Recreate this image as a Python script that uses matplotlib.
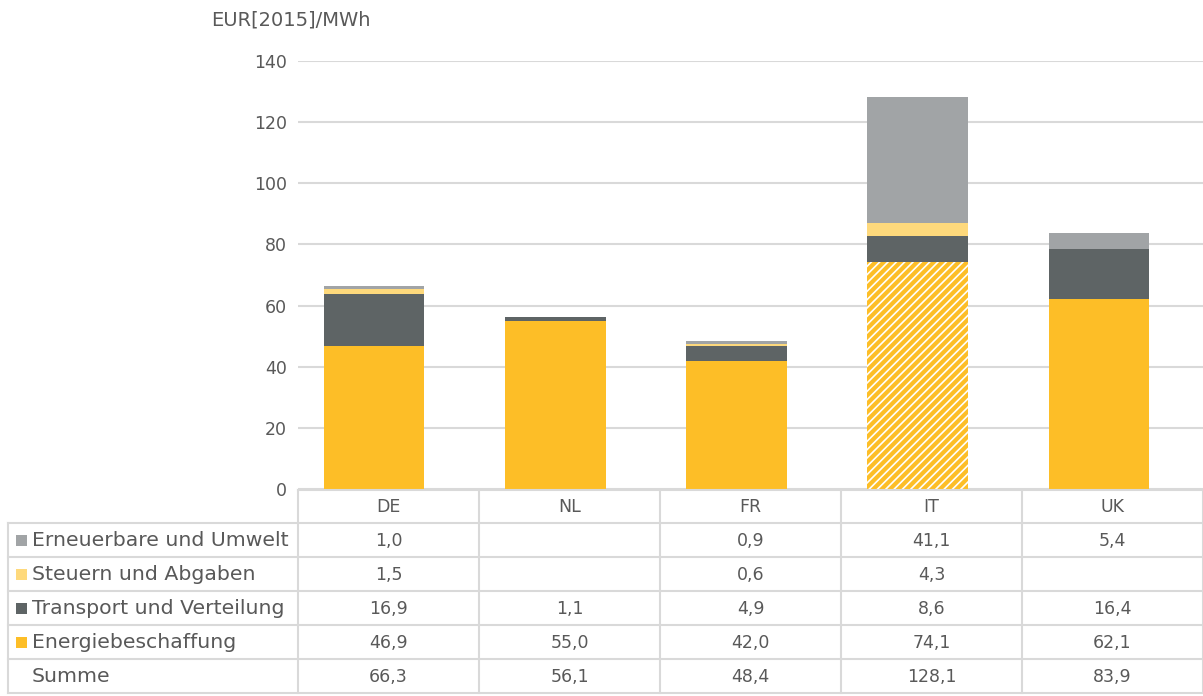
import matplotlib.pyplot as plt
from matplotlib.patches import Rectangle

# Stromkosten nach Bestandteilen, EUR[2015]/MWh
laender = ["DE", "NL", "FR", "IT", "UK"]
energie = [46.9, 55.0, 42.0, 74.1, 62.1]
transport = [16.9, 1.1, 4.9, 8.6, 16.4]
steuern = [1.5, None, 0.6, 4.3, None]
erneuerbare = [1.0, None, 0.9, 41.1, 5.4]
summe = [66.3, 56.1, 48.4, 128.1, 83.9]

y_ticks = [0, 20, 40, 60, 80, 100, 120, 140]

C_ENERGIE = "#FDBE27"
C_TRANSPORT = "#5E6465"
C_STEUERN = "#FED97C"
C_ERNEUERBARE = "#A1A4A6"
TXT = "#595959"
GRID = "#D9D9D9"

plt.rcParams["font.family"] = ["DejaVu Sans"]
plt.rcParams["hatch.linewidth"] = 1.2

W, H = 1203, 696
fig = plt.figure(figsize=(W / 100, H / 100), dpi=100)

FS_TEXT = 14.7
FS_NUM = 12.5


def fx(px):
    return px / W


def fy(py):
    return 1 - py / H


# Diagramm (Balken leicht links der Tabellenspalten)
x0, x1 = 298, 1203
y_top, y_zero = 61, 489
slot = 181.25
erster = 374
ax = fig.add_axes([fx(x0), fy(y_zero), fx(x1 - x0), (y_zero - y_top) / H])
ax.set_xlim(-(erster - x0) / slot, (x1 - erster) / slot)
ax.set_ylim(0, 140)
for s in ax.spines.values():
    s.set_visible(False)
ax.set_xticks([])
ax.set_yticks(y_ticks)
ax.tick_params(axis="y", length=0, pad=8, labelsize=FS_NUM, labelcolor=TXT)
ax.yaxis.grid(True, color=GRID, linewidth=1.5)
ax.set_axisbelow(True)


def val(v):
    return 0 if v is None else v


pos = range(len(laender))
bw = 0.557
for i in pos:
    hatch = "////" if laender[i] == "IT" else None
    ax.bar(i, energie[i], bw, color=C_ENERGIE, hatch=hatch,
           edgecolor="white" if hatch else C_ENERGIE, linewidth=0)
unten = [energie[i] for i in pos]
for serie, farbe in [(transport, C_TRANSPORT), (steuern, C_STEUERN),
                     (erneuerbare, C_ERNEUERBARE)]:
    werte = [val(v) for v in serie]
    ax.bar(pos, werte, bw, bottom=unten, color=farbe, linewidth=0)
    unten = [unten[i] + werte[i] for i in pos]

fig.text(fx(211), fy(20), "EUR[2015]/MWh", fontsize=14, color=TXT,
         ha="left", va="center")

# Datentabelle
tab = fig.add_axes([0, 0, 1, 1])
tab.set_xlim(0, W)
tab.set_ylim(H, 0)
tab.axis("off")

spalten = [298, 479, 660, 841, 1022, 1203]
zeilen = [490, 523, 557, 591, 625, 659, 693]
lw = 1.5

# Kopfzeile mit Ländern
tab.plot([x0, x1], [zeilen[0], zeilen[0]], color=GRID, lw=lw)
for k in range(len(laender)):
    xm = (spalten[k] + spalten[k + 1]) / 2
    tab.text(xm, (zeilen[0] + zeilen[1]) / 2 + 1, laender[k], ha="center",
             va="center", fontsize=FS_NUM, color=TXT)

for yl in zeilen[1:]:
    tab.plot([8, x1], [yl, yl], color=GRID, lw=lw)
for xs in spalten:
    tab.plot([xs, xs], [zeilen[0], zeilen[-1]], color=GRID, lw=lw)
tab.plot([8, 8], [zeilen[1], zeilen[-1]], color=GRID, lw=lw)

reihen = [
    ("Erneuerbare und Umwelt", C_ERNEUERBARE, erneuerbare),
    ("Steuern und Abgaben", C_STEUERN, steuern),
    ("Transport und Verteilung", C_TRANSPORT, transport),
    ("Energiebeschaffung", C_ENERGIE, energie),
    ("Summe", None, summe),
]
for r, (name, farbe, werte) in enumerate(reihen):
    ym = (zeilen[r + 1] + zeilen[r + 2]) / 2
    if farbe:
        tab.add_patch(Rectangle((16, ym - 5), 11, 11, color=farbe, lw=0))
    tab.text(32, ym + 1, name, ha="left", va="center", fontsize=FS_TEXT,
             color=TXT)
    for k, v in enumerate(werte):
        if v is None:
            continue
        xm = (spalten[k] + spalten[k + 1]) / 2
        tab.text(xm, ym + 1, f"{v:.1f}".replace(".", ","), ha="center",
                 va="center", fontsize=FS_NUM, color=TXT)

fig.savefig("out.png", dpi=100)
